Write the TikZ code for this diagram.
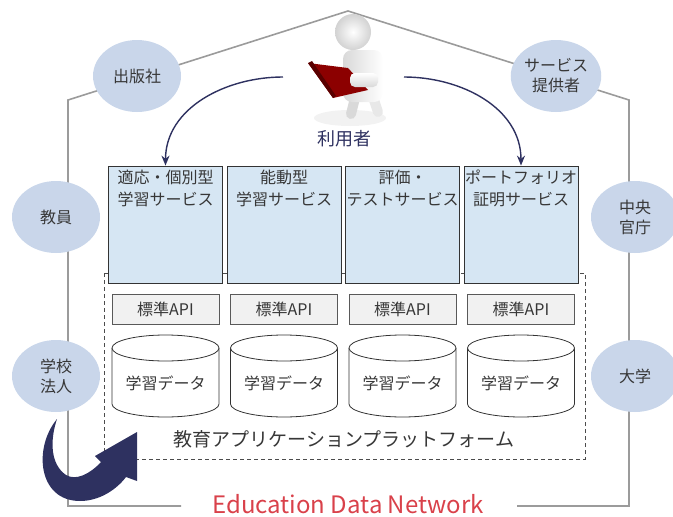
\documentclass[tikz,border=0pt]{standalone}
\usepackage{fontspec}
\setmainfont{Noto Sans CJK JP}
\usetikzlibrary{positioning,shapes.geometric,arrows.meta}

\definecolor{roleblue}{RGB}{201,214,234}
\definecolor{svcblue}{RGB}{214,230,243}
\definecolor{apigray}{RGB}{241,241,241}
\definecolor{navy}{RGB}{46,49,96}
\definecolor{netred}{RGB}{217,65,74}
\definecolor{wallgray}{RGB}{155,155,155}
\definecolor{txtgray}{RGB}{55,55,55}

\tikzset{
  role/.style={ellipse, fill=roleblue, minimum width=88pt, minimum height=72pt,
    inner sep=0pt, align=center, text=txtgray, font=\fontsize{16}{20}\selectfont},
  svcbox/.style={draw=black!80, fill=svcblue, minimum width=114pt,
    minimum height=117pt, line width=0.8pt},
  svctext/.style={anchor=north, align=center, inner sep=0pt, text=txtgray,
    font=\fontsize{16}{22}\selectfont},
  apibox/.style={draw=black!65, fill=apigray, minimum width=107pt,
    minimum height=30pt, line width=0.8pt, text=txtgray,
    font=\fontsize{16}{20}\selectfont},
  datatext/.style={text=txtgray, font=\fontsize{16}{20}\selectfont},
  useflow/.style={-{Stealth[length=10pt,width=8pt]}, navy, line width=1.4pt},
}

% data store drawn as a drum, #1 = x of its axis
\newcommand{\datadrum}[1]{%
  \draw[black!80, line width=0.8pt, fill=white] (#1-53.5,348) -- (#1-53.5,404)
    arc[start angle=180, end angle=0, x radius=53.5, y radius=13] -- (#1+53.5,348);
  \draw[black!80, line width=0.8pt, fill=white] (#1,348) ellipse[x radius=53.5, y radius=13];
}

\begin{document}
\begin{tikzpicture}[x=1pt,y=-1pt]
    \useasboundingbox (0,0) rectangle (673,517);

    % house shaped network outline
    \draw[wallgray, line width=1.6pt] (181,506) -- (68,506) -- (68,100) -- (348,11)
        -- (629,100) -- (629,506) -- (517,506);

    \node[anchor=base, text=netred, font=\fontsize{24}{28}\selectfont] (edn) at (348,513)
        {Education Data Network};

    % stakeholders round the house
    \node[role] (pub)  at (137,76)  {出版社};
    \node[role] (prov) at (556,76)  {サービス\\提供者};
    \node[role] (tch)  at (56,217)  {教員};
    \node[role] (gov)  at (635,217) {中央\\官庁};
    \node[role] (corp) at (56,376)  {学校\\法人};
    \node[role] (univ) at (635,376) {大学};

    % platform frame (top edge sits behind the service boxes)
    \draw[black!70, dashed, dash pattern=on 4pt off 3pt, line width=0.9pt]
        (104,273) rectangle (585,459);
    \node[text=txtgray, font=\fontsize{19}{22}\selectfont] (plat) at (344,439)
        {教育アプリケーションプラットフォーム};

    % services
    \node[svcbox] (s1) at (165.5,224.5) {};
    \node[svctext] at (165.5,170) {適応・個別型\\学習サービス};
    \node[svcbox] (s2) at (284,224.5) {};
    \node[svctext] at (284,170) {能動型\\学習サービス};
    \node[svcbox] (s3) at (402.5,224.5) {};
    \node[svctext] at (402.5,170) {評価・\\テストサービス};
    \node[svcbox] (s4) at (521,224.5) {};
    \node[svctext] at (521,170) {ポートフォリオ\\証明サービス};

    % standard APIs
    \node[apibox] (a1) at (165.5,309) {標準API};
    \node[apibox] (a2) at (284,309)   {標準API};
    \node[apibox] (a3) at (402.5,309) {標準API};
    \node[apibox] (a4) at (521,309)   {標準API};

    % learning data stores
    \datadrum{165.5}
    \node[datatext] (d1) at (165.5,383) {学習データ};
    \datadrum{284}
    \node[datatext] (d2) at (284,383) {学習データ};
    \datadrum{402.5}
    \node[datatext] (d3) at (402.5,383) {学習データ};
    \datadrum{521}
    \node[datatext] (d4) at (521,383) {学習データ};

    % the user reading a book
    \fill[gray!10] (350,118) ellipse[x radius=36, y radius=8];
    \draw[gray!30, line width=10pt, line cap=round] (356,94) -- (351,114);
    \draw[gray!18, line width=10pt, line cap=round] (372,94) -- (378,112);
    \shade[left color=gray!30, right color=white, rounded corners=9pt]
        (343,50) rectangle (383,102);
    \shade[ball color=white, inner color=white, outer color=gray!35] (353,32) circle[radius=18];
    \fill[red!55!black] (308,63) -- (348,68) -- (368,90) -- (333,98) -- cycle;
    \fill[red!35!black] (308,63) -- (312,61) -- (336,96) -- (333,98) -- cycle;
    \shade[top color=white, bottom color=gray!30, rounded corners=5pt]
        (350,73) rectangle (378,87);
    \node[text=navy, font=\fontsize{18}{20}\selectfont] (user) at (344,139) {利用者};
    \coordinate (userL) at (283,77);
    \coordinate (userR) at (404,77);

    % use of the services
    \draw[useflow] (userL) to[out=180, in=90] (s1.north);
    \draw[useflow] (userR) to[out=0, in=90] (s4.north);

    % circulation of the data
    \fill[navy] (57,419) .. controls (33,448) and (38,501) .. (80,501)
        .. controls (100,501) and (117,489) .. (126,477) -- (137,481) -- (137,432)
        -- (95,456) -- (101,462) .. controls (90,474) and (76,481) .. (66,475)
        .. controls (50,464) and (50,440) .. (57,419) -- cycle;
\end{tikzpicture}
\end{document}
